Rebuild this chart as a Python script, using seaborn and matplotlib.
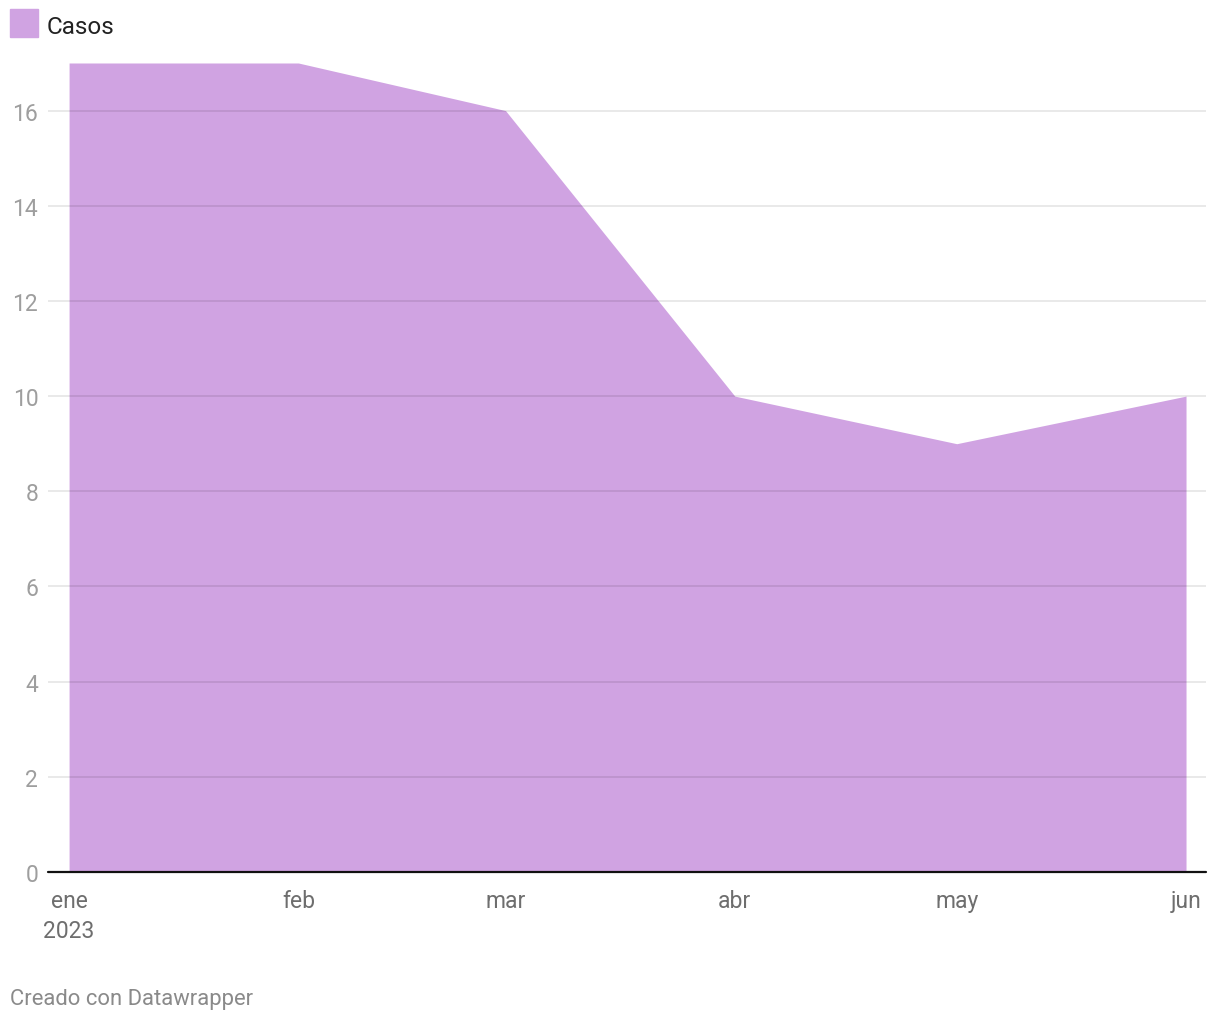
import matplotlib
matplotlib.use("Agg")
import matplotlib.pyplot as plt
import seaborn as sns
import pandas as pd

months = ["2023-01-01", "2023-02-01", "2023-03-01", "2023-04-01", "2023-05-01", "2023-06-01"]
casos = [17, 17, 16, 10, 9, 10]
month_labels = ["ene\n2023", "feb", "mar", "abr", "may", "jun"]
yticks = [0, 2, 4, 6, 8, 10, 12, 14, 16]

sns.set_theme(style="white")
plt.rcParams['font.family'] = ['Roboto', 'DejaVu Sans']

df = pd.DataFrame({"fecha": pd.to_datetime(months), "Casos": casos})

fig = plt.figure(figsize=(12.2, 10.2), dpi=100)
ax = fig.add_axes([48/1220, (1020-873)/1020, (1206-48)/1220, (873-64)/1020])

color = "#d0a3e2"
sns.lineplot(data=df, x="fecha", y="Casos", ax=ax, color=color, linewidth=0, zorder=2)
ax.fill_between(df["fecha"], 0, df["Casos"], color=color, linewidth=0, zorder=1)

x0 = df["fecha"].iloc[0] - pd.Timedelta(days=2.85)
x1 = df["fecha"].iloc[-1] + pd.Timedelta(days=2.7)
ax.set_xlim(x0, x1)
ax.set_ylim(0, 17)

for v in yticks[1:]:
    ax.axhline(v, color="black", alpha=0.1, linewidth=1.2, zorder=3)
ax.axhline(0, color="#111111", linewidth=1.6, zorder=5, clip_on=False)

for s in ax.spines.values():
    s.set_visible(False)

ax.set_yticks(yticks)
ax.set_yticklabels([str(v) for v in yticks], color="#9e9e9e", fontsize=16.5)
ax.tick_params(axis="y", length=0, pad=7)
ax.set_xticks(df["fecha"])
ax.set_xticklabels(month_labels, color="#6e6e6e", fontsize=16.5)
ax.tick_params(axis="x", length=0, pad=12.5)
for lab in ax.get_xticklabels():
    lab.set_linespacing(1.38)
ax.set_xlabel("")
ax.set_ylabel("")
ax.grid(False)

# legend
fig.patches.append(matplotlib.patches.Rectangle((10/1220, 1-38/1020), 28/1220, 28/1020,
                                                transform=fig.transFigure, color=color, figure=fig))
fig.text(47/1220, 1-27/1020, "Casos", fontsize=17.5, color="#222222", va="center", ha="left")

fig.text(10/1220, 1-1000/1020, "Creado con Datawrapper", fontsize=15.8, color="#8a8a8a", va="center", ha="left")

fig.savefig("out.png", dpi=100)
